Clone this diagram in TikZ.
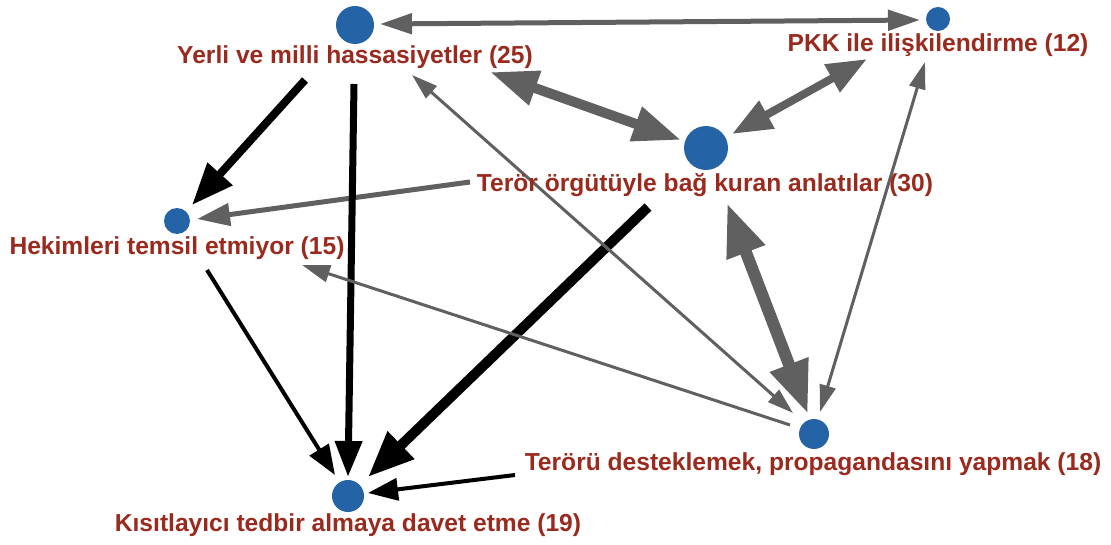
\documentclass[tikz,border=0pt]{standalone}
\usepackage{fontspec}
\setmainfont{Liberation Sans}
\usetikzlibrary{arrows.meta}
\definecolor{lab}{RGB}{155,42,30}
\definecolor{dot}{RGB}{36,99,165}
\definecolor{gr}{RGB}{96,96,96}
\tikzset{
  dotn/.style={circle, fill=dot, inner sep=0pt, minimum size=#1},
  lbl/.style={text=lab, font=\fontsize{24.6}{28}\selectfont\bfseries, inner sep=0pt},
  garr/.style={draw=gr, line width=#1},
  barr/.style={draw=black, line width=#1},
}
\begin{document}
\begin{tikzpicture}[x=1pt,y=-1pt]
\useasboundingbox (0,0) rectangle (1111,545);
% nodes (circles)
\node[dotn=38pt] (yerli) at (355,25) {};
\node[dotn=24pt] (pkk) at (938,19) {};
\node[dotn=44pt] (teror) at (706,148) {};
\node[dotn=26pt] (hek) at (177,221) {};
\node[dotn=30pt] (terorr) at (814,434) {};
\node[dotn=32pt] (kis) at (348,496) {};
% connector end points
\coordinate (e1a) at (380,24);  \coordinate (e1b) at (920,20);
\coordinate (e2a) at (490,72);  \coordinate (e2b) at (681,140);
\coordinate (e3a) at (867,59);  \coordinate (e3b) at (732,134);
\coordinate (e4a) at (470,182); \coordinate (e4b) at (197,219);
\coordinate (e5a) at (305,80);  \coordinate (e5b) at (192,205);
\coordinate (e6a) at (354,84);  \coordinate (e6b) at (348,477);
\coordinate (e7a) at (648,207); \coordinate (e7b) at (368,477);
\coordinate (e8a) at (727,203); \coordinate (e8b) at (808,414);
\coordinate (e9a) at (412,75);  \coordinate (e9b) at (793,413);
\coordinate (e10a) at (790,425); \coordinate (e10b) at (302,265);
\coordinate (e11a) at (820,412); \coordinate (e11b) at (925,62);
\coordinate (e12a) at (207,270); \coordinate (e12b) at (335,475);
\coordinate (e13a) at (515,475); \coordinate (e13b) at (368,493);
% connectors
\draw[garr=5, {Triangle[length=32pt,width=20pt]}-{Triangle[length=32pt,width=20pt]}] (e1a) -- (e1b);
\draw[garr=10, {Triangle[length=48pt,width=34pt]}-{Triangle[length=48pt,width=34pt]}] (e2a) -- (e2b);
\draw[garr=8, {Triangle[length=40pt,width=30pt]}-{Triangle[length=40pt,width=30pt]}] (e3a) -- (e3b);
\draw[garr=5, -{Triangle[length=33pt,width=22pt]}] (e4a) -- (e4b);
\draw[barr=8, -{Triangle[length=42pt,width=32pt]}] (e5a) -- (e5b);
\draw[barr=7, -{Triangle[length=36pt,width=26pt]}] (e6a) -- (e6b);
\draw[barr=10, -{Triangle[length=46pt,width=36pt]}] (e7a) -- (e7b);
\draw[garr=12, {Triangle[length=53pt,width=38pt]}-{Triangle[length=53pt,width=38pt]}] (e8a) -- (e8b);
\draw[garr=3, {Triangle[length=26pt,width=16pt]}-{Triangle[length=26pt,width=16pt]}] (e9a) -- (e9b);
\draw[garr=3, -{Triangle[length=28pt,width=17pt]}] (e10a) -- (e10b);
\draw[garr=3, {Triangle[length=27pt,width=16pt]}-{Triangle[length=27pt,width=16pt]}] (e11a) -- (e11b);
\draw[barr=4, -{Triangle[length=30pt,width=22pt]}] (e12a) -- (e12b);
\draw[barr=4, -{Triangle[length=30pt,width=22pt]}] (e13a) -- (e13b);
% labels
\node[lbl] (yerliL) at (355,57) {Yerli ve milli hassasiyetler (25)};
\node[lbl] (pkkL) at (938,45) {PKK ile ilişkilendirme (12)};
\node[lbl] (terorL) at (705,185) {Terör örgütüyle bağ kuran anlatılar (30)};
\node[lbl] (hekL) at (177,248) {Hekimleri temsil etmiyor (15)};
\node[lbl] (terorrL) at (813,464) {Terörü desteklemek, propagandasını yapmak (18)};
\node[lbl] (kisL) at (348,525) {Kısıtlayıcı tedbir almaya davet etme (19)};
\end{tikzpicture}
\end{document}
